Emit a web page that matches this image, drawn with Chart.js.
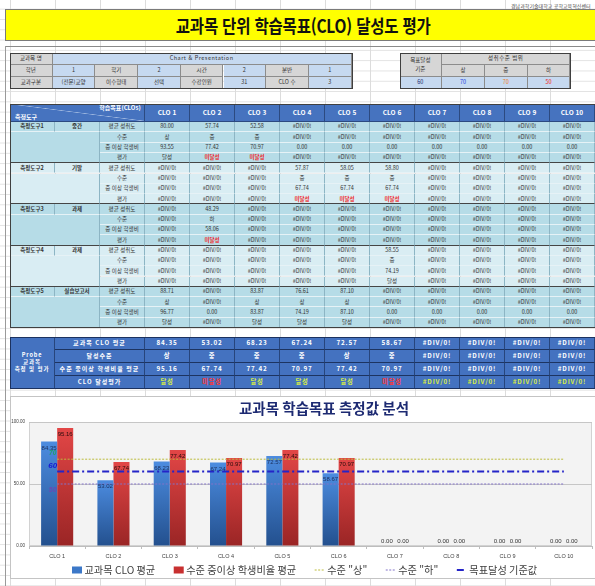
<!DOCTYPE html>
<html lang="ko"><head><meta charset="utf-8">
<script src="https://cdn.jsdelivr.net/npm/chart.js@4.4.1/dist/chart.umd.min.js"></script>
<style>
*{box-sizing:border-box}
html,body{margin:0;padding:0;width:595px;height:586px;overflow:hidden;background:#fff;
 font-family:"Noto Sans CJK KR","Noto Sans",sans-serif;color:#333}
#grid{position:absolute;left:0;top:0;width:595px;height:586px;
 background-image:linear-gradient(to right,#dcdcdc 1px,transparent 1px),linear-gradient(to bottom,#e2e2e2 1px,transparent 1px);
 background-size:45px 10.3px;background-position:10px 0,0 8.7px}
.c{position:absolute;display:flex;align-items:center;justify-content:center;text-align:center;white-space:nowrap;line-height:1.15}
.ln{position:absolute}
#org{position:absolute;left:511px;top:2px;font-size:5px;white-space:nowrap;color:#444;line-height:8px}
#titlebox{position:absolute;left:5px;top:9px;width:596px;height:32px;background:#ffff00;border:1px solid #7a7a7a;border-right:none}
#title{position:absolute;left:5px;top:9px;width:596px;height:32px;display:flex;align-items:center;justify-content:center}
#title span{display:inline-block;font-size:18px;font-weight:700;color:#111;transform:scaleX(0.86);white-space:nowrap;letter-spacing:-0.2px}
#chartbox{position:absolute;left:10px;top:396px;width:590px;height:183px;background:#fff;border:1px solid #c4c4c4}
#chart{position:absolute;left:11px;top:397px}
</style></head>
<body>
<div id="grid"></div>
<div class="ln" style="left:5px;top:46px;width:590px;height:1px;background:#8a8a8a"></div>
<div class="ln" style="left:5px;top:46px;width:1px;height:540px;background:#9a9a9a"></div>
<div id="org">경남과학기술대학교 공학교육혁신센터</div>
<div id="titlebox"></div>
<div id="title"><span>교과목 단위 학습목표(CLO) 달성도 평가</span></div>
<div id="chartbox"></div>
<canvas id="chart" width="584" height="181"></canvas>
<script>
// ---------- chart data ----------
const categories = ['CLO 1','CLO 2','CLO 3','CLO 4','CLO 5','CLO 6','CLO 7','CLO 8','CLO 9','CLO 10'];
const cloAverage = [84.35, 53.02, 68.23, 67.24, 72.57, 58.67, 0, 0, 0, 0];
const highRatioAverage = [95.16, 67.74, 77.42, 70.97, 77.42, 70.97, 0, 0, 0, 0];
const levelHighLine = [70, 70, 70, 70, 70, 70, 70, 70, 70, 70];
const levelLowLine = [50, 50, 50, 50, 50, 50, 50, 50, 50, 50];
const targetLine = [60, 60, 60, 60, 60, 60, 60, 60, 60, 60];
const yTickValues = [0, 50, 100];

// ---------- table data ----------
const D = '#DIV/0!';
const infoRow1 = ['교과목 명', 'Chart &amp; Presentation'];
const infoRow2 = ['학년','1','학기','2','시간','2','분반','1'];
const infoRow3 = ['교과구분','(전문)교양','이수형태','선택','수강인원','31','CLO 수','3'];
const levelHead = ['상','중','하'];
const levelValues = ['60','70','70','50'];
const toolNames = ['측정도구1','측정도구2','측정도구3','측정도구4','측정도구5'];
const toolTypes = ['중간','기말','과제','과제','실습보고서'];
const rowLabels = ['평균 성취도','수준','중 이상 학생비','평가'];
const toolAvg = [
 ['80.00','57.74','52.58',D,D,D,D,D,D,D],
 [D,D,D,'57.87','58.05','58.80',D,D,D,D],
 [D,'48.29',D,D,D,D,D,D,D,D],
 [D,D,D,D,D,'58.55',D,D,D,D],
 ['88.71',D,'83.87','76.61','87.10',D,D,D,D,D]
];
const toolLevel = [
 ['상','중','중',D,D,D,D,D,D,D],
 [D,D,D,'중','중','중',D,D,D,D],
 [D,'하',D,D,D,D,D,D,D,D],
 [D,D,D,D,D,'중',D,D,D,D],
 ['상',D,'상','상','상',D,D,D,D,D]
];
const toolRatio = [
 ['93.55','77.42','70.97','0.00','0.00','0.00','0.00','0.00','0.00','0.00'],
 [D,D,D,'67.74','67.74','67.74',D,D,D,D],
 [D,'58.06',D,D,D,D,D,D,D,D],
 [D,D,D,D,D,'74.19',D,D,D,D],
 ['96.77','0.00','83.87','74.19','87.10','0.00','0.00','0.00','0.00','0.00']
];
const toolEval = [
 ['달성','미달성','미달성',D,D,D,D,D,D,D],
 [D,D,D,'미달성','미달성','미달성',D,D,D,D],
 [D,'미달성',D,D,D,D,D,D,D,D],
 [D,D,D,D,D,'달성',D,D,D,D],
 ['달성',D,'달성','달성','달성',D,D,D,D,D]
];
const probeLabels = ['교과목 CLO 평균','달성수준','수준 중이상 학생비율 평균','CLO 달성평가'];
const probeAvgText = ['84.35','53.02','68.23','67.24','72.57','58.67',D,D,D,D];
const probeLevel = ['상','중','중','중','상','중',D,D,D,D];
const probeRatioText = ['95.16','67.74','77.42','70.97','77.42','70.97',D,D,D,D];
const probeEval = ['달성','미달성','달성','달성','달성','미달성',D,D,D,D];

// ---------- build tables ----------
function box(x,y,w,h,txt,css){
  const d=document.createElement('div'); d.className='c';
  d.style.cssText=`left:${x}px;top:${y}px;width:${w}px;height:${h}px;${css||''}`;
  d.innerHTML = txt==null ? '' : txt;
  document.body.insertBefore(d, document.getElementById('chartbox'));
  return d;
}
const CW=45;
// info table (left)
const IW=42.7, IY=53, IH=12, GRAY='#d6d6d6', LB='#c6d9f0';
const ib='border-right:1px solid #8c8c8c;border-bottom:1px solid #8c8c8c;font-size:5.5px;color:#333;';
box(10,IY,IW,IH,infoRow1[0],ib+`background:${GRAY}`);
box(10+IW,IY,7*IW,IH,infoRow1[1],ib+`background:${LB};letter-spacing:0.5px`);
[infoRow2,infoRow3].forEach((row,r)=>{
  row.forEach((t,i)=>box(10+i*IW,IY+(r+1)*IH,IW,IH,t,ib+`background:${i%2===0?GRAY:LB}`));
});
box(10,IY,8*IW+1,3*IH,'','border:1px solid #3f3f3f;background:transparent');
// info table (right)
const RX=399.5;
box(RX,IY,IW,2*IH,'목표달성<br>기준',ib+`background:${GRAY};line-height:1.6`);
box(RX+IW,IY,3*IW,IH,'성취수준 범위',ib+`background:${GRAY};letter-spacing:0.5px`);
levelHead.forEach((t,i)=>box(RX+(i+1)*IW,IY+IH,IW,IH,t,ib+`background:${GRAY}`));
const lvColors=['#1f2f6f','#2240e0','#ee7a22','#f02020'];
levelValues.forEach((t,i)=>box(RX+i*IW,IY+2*IH,IW,IH,t,ib+`background:${LB};color:${lvColors[i]}`));
box(RX,IY,4*IW+1,3*IH,'','border:1px solid #3f3f3f;background:transparent');

// main table
const MX=10, HY=104, HH=18, RY=122, RH=10.3, HEAD='#4673bf';
box(MX,HY,3*CW,HH,'',`background:linear-gradient(to top right, transparent calc(50% - 0.6px), #9fb8e0 50%, transparent calc(50% + 0.6px)), ${HEAD};border-right:1px solid #2c4a80;border-bottom:1px solid #2c4a80`);
box(96,104,48,9,'학습목표(CLOs)','color:#fff;font-weight:700;font-size:6px');
box(11,113,30,9,'측정도구','color:#fff;font-weight:700;font-size:6px');
categories.forEach((t,i)=>box(MX+(3+i)*CW,HY,CW,HH,t,`background:${HEAD};color:#fff;font-weight:700;font-size:6.5px;border-right:1px solid #2c4a80;border-bottom:1px solid #2c4a80`));
const rowData=[toolAvg,toolLevel,toolRatio,toolEval];
for(let g=0;g<5;g++){
  const bg = g%2===0 ? '#b6dce7' : '#d9edf3';
  for(let r=0;r<4;r++){
    const y=RY+(g*4+r)*RH;
    const bb = r===3 ? '#454545' : '#e6f2f6';
    const base=`background:${bg};border-right:1px solid #8db5c4;border-bottom:1px solid ${bb};font-size:5.5px;color:#333;`;
    if(r===0){
      box(MX,y,CW,RH,toolNames[g],base+'font-weight:700');
      box(MX+CW,y,CW,RH,toolTypes[g],base+'font-weight:700');
    } else if(r===1){
      box(MX,y,2*CW,3*RH,'',`background:${bg};border-right:1px solid #8db5c4;border-bottom:1px solid #454545`);
    }
    box(MX+2*CW,y,CW,RH,rowLabels[r],base);
    rowData[r][g].forEach((t,i)=>{
      const red = t==='미달성';
      box(MX+(3+i)*CW,y,CW,RH,t,base+(red?'color:#f01e1e;font-weight:700':''));
    });
  }
}
box(MX,HY,13*CW+2,HH+20*RH,'','border:1px solid #404040;background:transparent');

// probe table
const PY=337, PH=13, PB='#4472c0';
const pb=`background:${PB};border-right:1px solid #27457c;border-bottom:1px solid #1d3461;color:#fff;font-weight:700;`;
box(MX,PY,CW,4*PH,'Probe<br>교과목<br>측정 및 평가',pb+'font-size:5.5px;letter-spacing:0.9px;line-height:7px');
const probeRows=[probeAvgText,probeLevel,probeRatioText,probeEval];
probeRows.forEach((row,r)=>{
  box(MX+CW,PY+r*PH,2*CW,PH,probeLabels[r],pb+'font-size:6px;letter-spacing:1px');
  row.forEach((t,i)=>{
    let col='#fff';
    if(r===3) col = t==='미달성' ? '#ff3636' : '#d6ec48';
    box(MX+(3+i)*CW,PY+r*PH,CW,PH,t,pb+`font-size:6.3px;letter-spacing:0.8px;color:${col}`);
  });
});
box(MX,PY,13*CW+2,4*PH,'','border:1.5px solid #1c3260;background:transparent');

// ---------- chart ----------
const BLUE=['#4c8ce0','#23508e'], RED=['#e24646','#9a2525'];
function barFill(c, stops){
  const chart=c.chart;
  if(!chart.chartArea || c.type!=='data') return stops[0];
  const ys=chart.scales.y;
  const top=ys.getPixelForValue(c.raw), bottom=ys.getPixelForValue(0);
  if(bottom-top<1) return stops[0];
  const g=chart.ctx.createLinearGradient(0,top,0,bottom);
  g.addColorStop(0,stops[0]); g.addColorStop(1,stops[1]);
  return g;
}
const plotBg={id:'plotBg',beforeDraw(chart){
  const a=chart.chartArea,ctx=chart.ctx;
  ctx.save(); ctx.fillStyle='#f3f3f3'; ctx.fillRect(a.left,a.top,a.right-a.left,a.bottom-a.top);
  ctx.strokeStyle='#d2d2d2'; ctx.lineWidth=1; ctx.strokeRect(a.left+0.5,a.top+0.5,a.right-a.left-1,a.bottom-a.top-1);
  ctx.restore();
}};
const chartTitle={id:'chartTitle',afterDraw(chart){
  const ctx=chart.ctx; ctx.save();
  ctx.font='bold 14.5px "Noto Sans CJK KR"'; ctx.fillStyle='#1d2a72';
  ctx.textAlign='center'; ctx.textBaseline='middle';
  ctx.fillText('교과목 학습목표 측정값 분석', chart.width/2+21, 11);
  ctx.restore();
}};
const valueLabels={id:'valueLabels',afterDatasetsDraw(chart){
  const ctx=chart.ctx; ctx.save();
  ctx.font='6px "Liberation Sans"'; ctx.textAlign='center'; ctx.textBaseline='middle';
  [0,1].forEach(di=>{
    const ds=chart.data.datasets[di];
    chart.getDatasetMeta(di).data.forEach((bar,i)=>{
      const v=ds.data[i];
      ctx.fillStyle = v===0 ? '#333' : ds.labelColor;
      ctx.fillText(v.toFixed(2), bar.x, v===0 ? bar.y-5 : bar.y+6.5);
    });
  });
  [2,3,4].forEach(di=>{
    const ds=chart.data.datasets[di];
    const p=chart.getDatasetMeta(di).data[0];
    ctx.font=ds.tagFont; ctx.fillStyle=ds.tagColor;
    ctx.fillText(String(ds.data[0]), p.x-4.5, p.y+ds.tagDy);
  });
  ctx.restore();
}};
const refLegend={id:'refLegend',afterDraw(chart){
  const ctx=chart.ctx, ds=chart.data.datasets; ctx.save();
  ctx.font='10.2px "Noto Sans CJK KR"';
  const sw=10, gapT=2.5, gapI=18.5;
  const widths=ds.map(d=>sw+gapT+ctx.measureText(d.label).width);
  let x=chart.chartArea.left+43; const y=chart.chartArea.bottom+24;
  ds.forEach((d,i)=>{
    if(d.type==='bar'){ ctx.fillStyle=d.legendColor; ctx.fillRect(x,y-3.5,sw,7); }
    else { ctx.strokeStyle=d.borderColor; ctx.lineWidth=d.borderWidth; ctx.setLineDash(d.borderDash);
      ctx.beginPath(); ctx.moveTo(x,y); ctx.lineTo(x+sw,y); ctx.stroke(); ctx.setLineDash([]); }
    ctx.fillStyle='#404040'; ctx.textAlign='left'; ctx.textBaseline='middle';
    ctx.fillText(d.label,x+sw+gapT,y+0.5);
    x+=widths[i]+gapI;
  });
  ctx.restore();
}};

new Chart(document.getElementById('chart'),{
  type:'bar',
  data:{labels:categories,datasets:[
    {type:'bar',label:'교과목 CLO 평균',data:cloAverage,backgroundColor:c=>barFill(c,BLUE),order:2,
     barPercentage:1,categoryPercentage:0.57,legendColor:'#3c78c8',labelColor:'#1b2f5c'},
    {type:'bar',label:'수준 중이상 학생비율 평균',data:highRatioAverage,backgroundColor:c=>barFill(c,RED),order:2,
     barPercentage:1,categoryPercentage:0.57,legendColor:'#c83030',labelColor:'#2a0c0c'},
    {type:'line',label:'수준 "상"',data:levelHighLine,borderColor:'#bcbc3c',borderWidth:1,borderDash:[2,1.5],
     pointRadius:0,order:1,tagColor:'#1f9e6e',tagFont:'italic bold 6.5px "Liberation Sans"',tagDy:-6},
    {type:'line',label:'수준 "하"',data:levelLowLine,borderColor:'#8272c8',borderWidth:1,borderDash:[2,1.5],
     pointRadius:0,order:1,tagColor:'#6a48b4',tagFont:'italic bold 7px "Liberation Sans"',tagDy:6.5},
    {type:'line',label:'목표달성 기준값',data:targetLine,borderColor:'#2424c8',borderWidth:2,borderDash:[7,3,2,3],
     pointRadius:0,order:1,tagColor:'#1616d4',tagFont:'italic bold 8px "Liberation Sans"',tagDy:-6}
  ]},
  options:{
    responsive:false,animation:false,devicePixelRatio:1,
    layout:{padding:{top:25,left:0,right:3,bottom:18}},
    plugins:{legend:{display:false},tooltip:{enabled:false},title:{display:false}},
    scales:{
      x:{offset:true,
        grid:{display:true,drawOnChartArea:false,drawTicks:true,tickLength:3,color:'#bdbdbd',offset:true},
        border:{display:true,color:'#bdbdbd'},
        ticks:{font:{size:5.5,family:'"Liberation Sans"'},color:'#404040',padding:4,maxRotation:0,autoSkip:false},
        afterFit:s=>{s.height=14;}},
      y:{min:0,max:100,
        afterBuildTicks:s=>{s.ticks=yTickValues.map(v=>({value:v}));},
        grid:{color:'#c6c6c6',drawTicks:false},border:{display:false},
        ticks:{font:{size:4.5,family:'"Liberation Sans"'},color:'#404040',padding:4,callback:v=>Number(v).toFixed(2)},
        afterFit:s=>{s.width=18;}}
    }
  },
  plugins:[plotBg,valueLabels,refLegend,chartTitle]
});
</script>
</body></html>
